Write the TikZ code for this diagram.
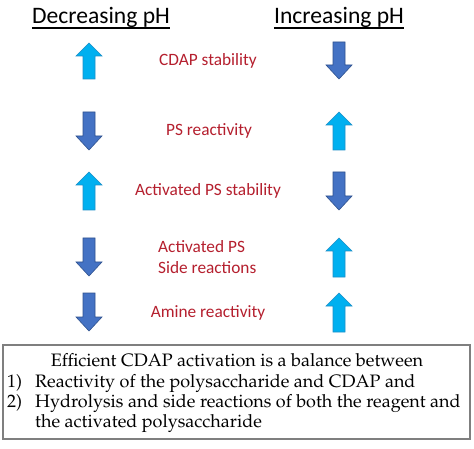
\documentclass[tikz,border=0pt]{standalone}
\usepackage[T1]{fontenc}
\usepackage{fontspec}
\newfontfamily\calibri{Carlito}
\newcommand{\palfont}{\fontencoding{T1}\fontfamily{ppl}\selectfont}
\definecolor{lblue}{HTML}{00B0F0}
\definecolor{lblueedge}{HTML}{1E90C8}
\definecolor{dblue}{HTML}{4472C4}
\definecolor{dblueedge}{HTML}{2F528F}
\definecolor{lblred}{HTML}{B51F2E}
\definecolor{boxgray}{HTML}{7F7F7F}
\tikzset{
  uparr/.style={fill=lblue,draw=lblueedge,line width=0.6pt},
  downarr/.style={fill=dblue,draw=dblueedge,line width=0.6pt},
  head/.style={font=\calibri\fontsize{23.6}{26}\selectfont,anchor=base,inner sep=0pt},
  lbl/.style={font=\calibri\fontsize{17.3}{20}\selectfont,text=lblred,anchor=base,inner sep=0pt},
  boxtxt/.style={font=\palfont\fontsize{18}{20}\selectfont,anchor=base west,inner sep=0pt},
}
% up arrow: #1 cx, #2 top, #3 bottom
\newcommand{\uparrowshape}[4]{%
  \draw[#4] (#1,#2) -- (#1+13,#2+13) -- (#1+6,#2+13) -- (#1+6,#3) -- (#1-6,#3) -- (#1-6,#2+13) -- (#1-13,#2+13) -- cycle;}
\newcommand{\downarrowshape}[4]{%
  \draw[#4] (#1,#3) -- (#1+13,#3-14) -- (#1+6,#3-14) -- (#1+6,#2) -- (#1-6,#2) -- (#1-6,#3-14) -- (#1-13,#3-14) -- cycle;}
\begin{document}
\begin{tikzpicture}[x=1pt,y=-1pt]
\useasboundingbox (0,0) rectangle (474,449);
\fill[white] (0,0) rectangle (474,449);
% headings
\node[head] (hdec) at (101,24) {Decreasing pH};
\node[head] (hinc) at (339,24) {Increasing pH};
\draw[line width=1.4pt] ([yshift=-4pt]hdec.base west) -- ([yshift=-4pt]hdec.base east);
\draw[line width=1.4pt] ([yshift=-4pt]hinc.base west) -- ([yshift=-4pt]hinc.base east);
% arrows
\uparrowshape{89}{43}{79}{uparr}
\downarrowshape{339}{42}{79}{downarr}
\downarrowshape{89}{112}{150}{downarr}
\uparrowshape{339}{112}{150}{uparr}
\uparrowshape{89}{172}{210}{uparr}
\downarrowshape{339}{172}{210}{downarr}
\downarrowshape{89}{238}{276}{downarr}
\uparrowshape{339}{238}{277}{uparr}
\downarrowshape{89}{293}{331}{downarr}
\uparrowshape{339}{293}{332}{uparr}
% labels
\node[lbl] (l1) at (208,66) {CDAP stability};
\node[lbl] (l2) at (209,136) {PS reactivity};
\node[lbl] (l3) at (208,196) {Activated PS stability};
\node[lbl,anchor=base west] (l4a) at (158,252) {Activated PS};
\node[lbl,anchor=base west] (l4b) at (158,273) {Side reactions};
\node[lbl] (l5) at (208,317) {Amine reactivity};
% box
\draw[boxgray,line width=1.2pt,fill=white] (3,345) rectangle (470,439);
\node[boxtxt,anchor=base] (b1) at (237,366) {Efficient CDAP activation is a balance between};
\node[boxtxt] (n1) at (7,387) {1)};
\node[boxtxt] (b2) at (35,387) {Reactivity of the polysaccharide and CDAP and};
\node[boxtxt] (n2) at (7,407) {2)};
\node[boxtxt] (b3) at (35,407) {Hydrolysis and side reactions of both the reagent and};
\node[boxtxt] (b4) at (35,427) {the activated polysaccharide};
\end{tikzpicture}
\end{document}
